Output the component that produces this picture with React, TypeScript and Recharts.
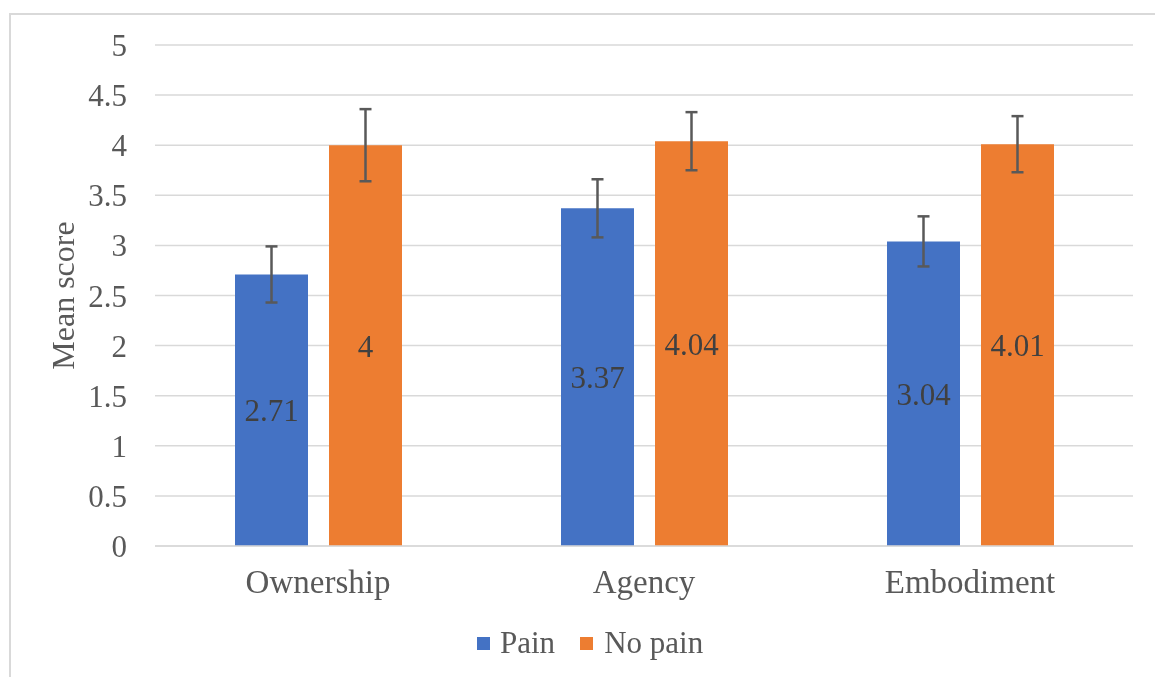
import React from 'react';
import { BarChart, Bar, XAxis, YAxis, CartesianGrid, ErrorBar, LabelList, Legend, Label } from 'recharts';

const categories = ['Ownership', 'Agency', 'Embodiment'];
const painValues = [2.71, 3.37, 3.04];
const noPainValues = [4, 4.04, 4.01];
const painErrors = [0.28, 0.29, 0.25];
const noPainErrors = [0.36, 0.29, 0.28];
const yTicks = [0, 0.5, 1, 1.5, 2, 2.5, 3, 3.5, 4, 4.5, 5];

const data = categories.map((c, i) => ({
  name: c,
  pain: painValues[i],
  noPain: noPainValues[i],
  painErr: painErrors[i],
  noPainErr: noPainErrors[i],
}));

const FONT = '"Liberation Serif", "Times New Roman", serif';
const TEXT = '#595959';

const LegendContent = () => (
  <div style={{ display: 'flex', alignItems: 'center', paddingLeft: 469, fontFamily: FONT, fontSize: 31, color: TEXT, lineHeight: '36px' }}>
    <span style={{ display: 'inline-block', width: 13, height: 13, background: '#4472C4', marginRight: 10 }} />
    <span style={{ marginRight: 25 }}>Pain</span>
    <span style={{ display: 'inline-block', width: 13, height: 13, background: '#ED7D31', marginRight: 11 }} />
    <span>No pain</span>
  </div>
);

export default function App() {
  return (
    <div style={{ position: 'relative', width: 1139, height: 661 }}>
      <div style={{ position: 'fixed', left: 9, top: 13, width: 1300, height: 900, border: '2px solid #d9d9d9', boxSizing: 'border-box', pointerEvents: 'none' }} />
      <BarChart
        width={1139}
        height={661}
        data={data}
        margin={{ top: 37, right: 14, bottom: 63, left: 0 }}
        barSize={73}
        barGap={21}
      >
        <CartesianGrid vertical={false} stroke="#d9d9d9" strokeWidth={1.5} />
        <XAxis
          dataKey="name"
          height={60}
          axisLine={{ stroke: '#d9d9d9', strokeWidth: 1.5 }}
          tickLine={false}
          tickSize={0}
          tickMargin={24}
          tick={{ fill: TEXT, fontSize: 33, fontFamily: FONT }}
        />
        <YAxis
          width={147}
          domain={[0, 5]}
          ticks={yTicks}
          axisLine={false}
          tickLine={false}
          tickSize={0}
          tickMargin={28}
          tick={{ fill: TEXT, fontSize: 31, fontFamily: FONT }}
        >
          <Label value="Mean score" angle={-90} position="center" dx={-19} style={{ fill: TEXT, fontSize: 32, fontFamily: FONT }} />
        </YAxis>
        <Legend layout="horizontal" verticalAlign="middle" content={<LegendContent />} wrapperStyle={{ top: 617, left: 0, width: 1139 }} />
        <Bar dataKey="pain" name="Pain" fill="#4472C4" isAnimationActive={false}>
          <ErrorBar dataKey="painErr" width={6} stroke="#595959" strokeWidth={2.5} />
          <LabelList dataKey="pain" position="center" fill="#404040" fontSize={31} fontFamily={FONT} />
        </Bar>
        <Bar dataKey="noPain" name="No pain" fill="#ED7D31" isAnimationActive={false}>
          <ErrorBar dataKey="noPainErr" width={6} stroke="#595959" strokeWidth={2.5} />
          <LabelList dataKey="noPain" position="center" fill="#404040" fontSize={31} fontFamily={FONT} />
        </Bar>
      </BarChart>
    </div>
  );
}
